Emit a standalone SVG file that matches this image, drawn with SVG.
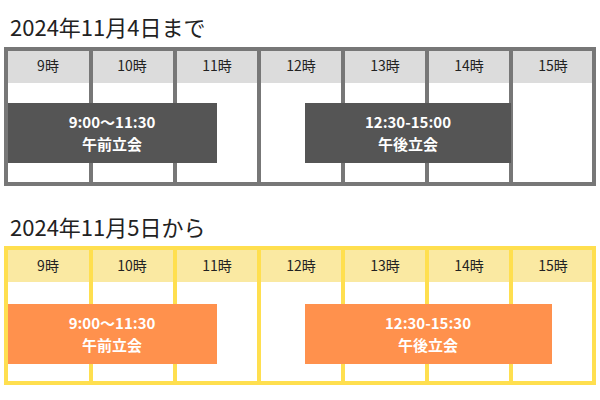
<svg xmlns="http://www.w3.org/2000/svg" width="600" height="400" viewBox="0 0 600 400">
<style>
text{font-family:"Noto Sans CJK JP","Noto Sans",sans-serif}
.t{font-size:22px;fill:#222}
.h{font-size:14px;fill:#222;text-anchor:middle}
.b{font-size:15px;fill:#fff;font-weight:bold;text-anchor:middle}
.g{stroke:#777;stroke-width:4;fill:none}
.y{stroke:#ffdf4f;stroke-width:4;fill:none}
</style>
<rect width="600" height="400" fill="#fff"/>
<g id="before">
<text class="t" x="10" y="36">2024年11月4日まで</text>
<rect x="6" y="49" width="588" height="34" fill="#dcdcdc"/>
<g class="h">
<text class="h" x="48" y="71">9時</text><text class="h" x="132" y="71">10時</text><text class="h" x="217" y="71">11時</text><text class="h" x="301" y="71">12時</text><text class="h" x="385" y="71">13時</text><text class="h" x="469" y="71">14時</text><text class="h" x="553" y="71">15時</text>
</g>
<rect class="g" x="6" y="49" width="588" height="135"/>
<path class="g" d="M91 49V184M175 49V184M259 49V184M343 49V184M427 49V184M511 49V184"/>
<g id="am1"><rect x="8" y="103" width="209" height="60" fill="#555"/><text class="b" x="112" y="128">9:00～11:30</text><text class="b" x="112" y="150">午前立会</text></g>
<g id="pm1"><rect x="305" y="103" width="206" height="60" fill="#555"/><text class="b" x="408" y="128">12:30-15:00</text><text class="b" x="408" y="150">午後立会</text></g>
</g>
<g id="after">
<text class="t" x="10" y="236">2024年11月5日から</text>
<rect x="6" y="248" width="588" height="34" fill="#fae9a2"/>
<text class="h" x="48" y="271">9時</text><text class="h" x="132" y="271">10時</text><text class="h" x="217" y="271">11時</text><text class="h" x="301" y="271">12時</text><text class="h" x="385" y="271">13時</text><text class="h" x="469" y="271">14時</text><text class="h" x="553" y="271">15時</text>
<rect class="y" x="6" y="248" width="588" height="135"/>
<path class="y" d="M91 248V383M175 248V383M259 248V383M343 248V383M427 248V383M511 248V383"/>
<g id="am2"><rect x="8" y="304" width="209" height="60" fill="#ff914d"/><text class="b" x="112" y="329">9:00～11:30</text><text class="b" x="112" y="351">午前立会</text></g>
<g id="pm2"><rect x="305" y="304" width="247" height="60" fill="#ff914d"/><text class="b" x="428" y="329">12:30-15:30</text><text class="b" x="428" y="351">午後立会</text></g>
</g>
</svg>
